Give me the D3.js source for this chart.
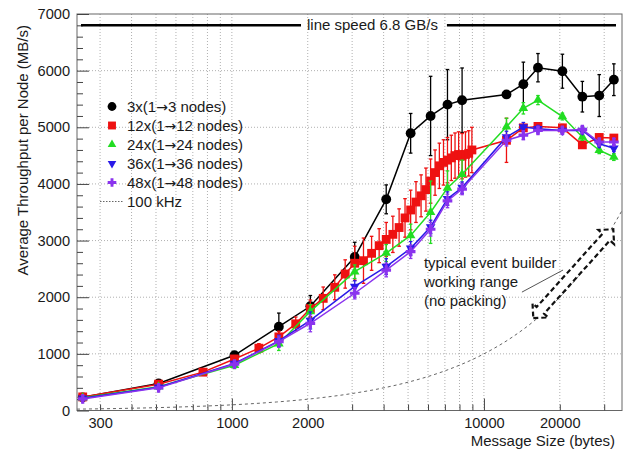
<!DOCTYPE html>
<html><head><meta charset="utf-8">
<script src="https://cdn.jsdelivr.net/npm/d3@7"></script>
<style>
body{margin:0;background:#fff;}
svg text{font-family:"Liberation Sans",Arial,Helvetica,sans-serif;fill:#1a1a1a;}
</style></head><body>
<svg id="chart" width="631" height="453"></svg>
<script>
// ---------------- data ----------------
const sizesCoarse = [256,512,1024,1536,2048,3072,4096,5120,6144,7168,8192,12288,14336,16384,20480,24576,28672,32768];
const sizesFine = [256,512,768,1024,1280,1536,1792,2048,
  2304,2560,2816,3072,3328,3584,3840,4096,4352,4608,4864,5120,5376,5632,5888,6144,6400,6656,6912,7168,7424,7680,7936,8192,8448,8704,8960,
  12288,14336,16384,20480,24576,28672,32768];

const values3 = [233,478,975,1480,1840,2710,3728,4894,5200,5400,5477,5580,5760,6052,5990,5540,5560,5840];
const errors3 = [25,35,50,240,190,260,255,350,700,620,570,40,390,250,300,270,370,280];

const values12 = [240,465,677,910,1100,1300,1530,1800,
  1980,2175,2410,2600,2645,2775,2910,3020,3110,3230,3400,3540,3680,3790,3900,4050,4200,4320,4380,4420,4460,4500,4520,4490,4520,4540,4600,
  4770,4990,5015,4990,4690,4820,4810];
const errors12 = [25,35,40,60,80,100,120,150,
  200,220,250,300,400,300,300,300,320,330,340,350,360,370,380,390,400,400,400,400,400,400,400,400,400,400,400,
  390,60,60,60,60,60,60];

const values24 = [225,420,800,1180,1750,2450,2780,3090,3500,3930,4170,5010,5335,5480,5190,4830,4595,4475];
const errors24 = [20,30,60,120,120,120,150,200,550,300,250,150,100,80,60,60,60,60];

const values36 = [215,410,830,1230,1590,2190,2540,2863,3240,3740,3935,4830,5005,4975,4945,4945,4710,4630];
const errors36 = [20,30,50,100,150,100,140,120,120,120,100,100,80,60,60,60,60,60];

const values48 = [205,400,820,1215,1540,2070,2480,2804,3200,3700,3910,4770,4860,4945,4945,4960,4740,4740];
const errors48 = [20,30,50,100,150,100,120,120,120,120,100,100,80,60,60,60,60,60];

const seriesLabels = [["3x(1","3 nodes)"],["12x(1","12 nodes)"],["24x(1","24 nodes)"],["36x(1","36 nodes)"],["48x(1","48 nodes)"]];
const arrowGlyph = "\u2192";

// 100 kHz reference curve
const rateSizes  = [243,300,400,500,700,1000,1500,2000,3000,4000,5000,7000,10000,13000,16000,20000,25000,30000,35300];
const rateValues = [24.3,30,40,50,70,100,150,200,300,400,500,700,1000,1300,1600,2000,2500,3000,3530];

const lineSpeed = 6800;
const xGrid = [300,400,500,600,700,800,900,1000,2000,3000,4000,5000,6000,7000,8000,9000,10000,20000,30000];
const xLabels = [300,1000,2000,10000,20000];
const yMajor = [0,1000,2000,3000,4000,5000,6000,7000];
const yMinor = d3.range(0,7001,200);
const annotationLines = ["typical event builder","working range","(no packing)"];

// ---------------- layout ----------------
const svg = d3.select("#chart");
const L=77, R=622, T=14, B=410.5;
const x = d3.scaleLog().domain([243,35300]).range([L,R]);
const y = d3.scaleLinear().domain([0,7000]).range([B,T]);
const FS = 14.6;

// grid
const grid = svg.append("g");
grid.selectAll(".gx").data(xGrid).enter().append("line")
  .attr("x1",d=>x(d)).attr("x2",d=>x(d)).attr("y1",T).attr("y2",B)
  .attr("stroke","#b0b0b0").attr("stroke-width",1).attr("stroke-dasharray","1,2");
grid.selectAll(".gy").data(yMajor.filter(v=>v>0&&v<7000)).enter().append("line")
  .attr("x1",L).attr("x2",R).attr("y1",d=>y(d)).attr("y2",d=>y(d))
  .attr("stroke","#b0b0b0").attr("stroke-width",1).attr("stroke-dasharray","1,2");

// frame
svg.append("rect").attr("x",L).attr("y",T).attr("width",R-L).attr("height",B-T)
  .attr("fill","none").attr("stroke","#666").attr("stroke-width",1);

// axes
const yAxis = d3.axisLeft(y).tickValues(yMajor).tickSize(-12).tickPadding(7).tickFormat(d3.format("d"));
const gy = svg.append("g").attr("transform",`translate(${L},0)`).call(yAxis);
gy.select(".domain").remove();
gy.selectAll("line").attr("stroke","#444");
gy.selectAll("text").style("font-size",FS+"px");
const yAxisMinor = d3.axisLeft(y).tickValues(yMinor.filter(v=>v%1000!==0)).tickSize(-6).tickFormat("");
const gym = svg.append("g").attr("transform",`translate(${L},0)`).call(yAxisMinor);
gym.select(".domain").remove();
gym.selectAll("line").attr("stroke","#444");

const xAxis = d3.axisBottom(x).tickValues(xGrid).tickSize(-6).tickPadding(7)
  .tickFormat(d=>xLabels.includes(d)?String(d):"");
const gx = svg.append("g").attr("transform",`translate(0,${B})`).call(xAxis);
gx.select(".domain").remove();
gx.selectAll("line").attr("stroke","#444").attr("y2",d=>(d===1000||d===10000)?-12:-6);
gx.selectAll("text").style("font-size",FS+"px");

// axis titles
svg.append("text").attr("transform","translate(28,25) rotate(-90)").attr("text-anchor","end")
  .style("font-size","15px").text("Average Throughput per Node (MB/s)");
svg.append("text").attr("x",615).attr("y",446).attr("text-anchor","end")
  .style("font-size","15px").text("Message Size (bytes)");

// line speed
const lsText = svg.append("text").attr("x",307).attr("y",y(lineSpeed)+5).style("font-size","15px").text("line speed 6.8 GB/s");
const lsW = lsText.node().getComputedTextLength();
svg.append("line").attr("x1",L+4).attr("x2",301).attr("y1",y(lineSpeed)).attr("y2",y(lineSpeed))
  .attr("stroke","#000").attr("stroke-width",2.5);
svg.append("line").attr("x1",307+lsW+9).attr("x2",R-6).attr("y1",y(lineSpeed)).attr("y2",y(lineSpeed))
  .attr("stroke","#000").attr("stroke-width",2.5);

// 100 kHz curve
const rateData = rateSizes.map((s,i)=>[s,rateValues[i]]);
svg.append("path").datum(rateData)
  .attr("d",d3.line().x(d=>x(d[0])).y(d=>y(d[1])).curve(d3.curveMonotoneX))
  .attr("fill","none").attr("stroke","#666").attr("stroke-width",1).attr("stroke-dasharray","3,3");

// series
const series = [
  {sizes:sizesCoarse, vals:values3,  errs:errors3,  color:"#000000", sym:d3.symbolCircle,   size:76, rot:0},
  {sizes:sizesFine,   vals:values12, errs:errors12, color:"#ee1111", sym:d3.symbolSquare,   size:78, rot:0},
  {sizes:sizesCoarse, vals:values24, errs:errors24, color:"#22dd22", sym:d3.symbolTriangle, size:40, rot:0},
  {sizes:sizesCoarse, vals:values36, errs:errors36, color:"#2a1ae8", sym:d3.symbolTriangle, size:40, rot:180},
  {sizes:sizesCoarse, vals:values48, errs:errors48, color:"#8a33ee", sym:d3.symbolCross,    size:52, rot:0}
];
const lineGen = d3.line().x(d=>x(d.s)).y(d=>y(d.v));
series.forEach(sr=>{
  const pts = sr.sizes.map((s,i)=>({s, v:sr.vals[i], e:sr.errs[i]}));
  const g = svg.append("g");
  g.append("path").datum(pts).attr("d",lineGen).attr("fill","none")
    .attr("stroke",sr.color).attr("stroke-width",1.5);
  const eb = g.selectAll(".eb").data(pts.filter(p=>p.e>0)).enter().append("g");
  eb.append("line").attr("x1",p=>x(p.s)).attr("x2",p=>x(p.s)).attr("y1",p=>y(p.v-p.e)).attr("y2",p=>y(p.v+p.e))
    .attr("stroke",sr.color).attr("stroke-width",1.3);
  eb.append("line").attr("x1",p=>x(p.s)-1.8).attr("x2",p=>x(p.s)+1.8).attr("y1",p=>y(p.v+p.e)).attr("y2",p=>y(p.v+p.e))
    .attr("stroke",sr.color).attr("stroke-width",1.3);
  eb.append("line").attr("x1",p=>x(p.s)-1.8).attr("x2",p=>x(p.s)+1.8).attr("y1",p=>y(p.v-p.e)).attr("y2",p=>y(p.v-p.e))
    .attr("stroke",sr.color).attr("stroke-width",1.3);
  g.selectAll(".m").data(pts).enter().append("path")
    .attr("d",d3.symbol(sr.sym,sr.size))
    .attr("transform",p=>`translate(${x(p.s)},${y(p.v)}) rotate(${sr.rot})`)
    .attr("fill",sr.color);
});

// legend
const legX = 112, legTextX = 127, legY0 = 106.5, legStep = 19;
const leg = svg.append("g");
series.forEach((sr,i)=>{
  const cy = legY0 + i*legStep;
  leg.append("path").attr("d",d3.symbol(sr.sym,sr.size*0.8))
    .attr("transform",`translate(${legX},${cy}) rotate(${sr.rot})`).attr("fill",sr.color);
  const t = leg.append("text").attr("x",legTextX).attr("y",cy+5.3).style("font-size","15px");
  t.append("tspan").text(seriesLabels[i][0]);
  t.append("tspan").style("font-family","'DejaVu Sans'").style("font-size","14px").text(arrowGlyph);
  t.append("tspan").text(seriesLabels[i][1]);
});
const cyR = legY0 + 5*legStep;
leg.append("line").attr("x1",100).attr("x2",123).attr("y1",cyR).attr("y2",cyR)
  .attr("stroke","#666").attr("stroke-width",1).attr("stroke-dasharray","1.5,1.5");
leg.append("text").attr("x",legTextX).attr("y",cyR+5.3).style("font-size","15px").text("100 kHz");

// annotation
const annX = x(5780), annY = y(2520);
annotationLines.forEach((t,i)=>{
  svg.append("text").attr("x",annX).attr("y",annY+i*19).style("font-size","15px").text(t);
});
svg.append("line").attr("x1",x(14150)).attr("y1",y(2090)).attr("x2",x(20600)).attr("y2",y(2480))
  .attr("stroke","#555").attr("stroke-width",1);

// double arrow (hollow, dashed)
const p1=[x(15700),y(1630)], p2=[x(32600),y(3200)];
const dx=p2[0]-p1[0], dy=p2[1]-p1[1], len=Math.hypot(dx,dy);
const u=[dx/len,dy/len], n=[-u[1],u[0]];
const hl=10.5, hw=10.5, sw=5;
const P=(b,a,c)=>[b[0]+u[0]*a+n[0]*c, b[1]+u[1]*a+n[1]*c];
const arrowPts=[p1,P(p1,hl,hw),P(p1,hl,sw),P(p2,-hl,sw),P(p2,-hl,hw),p2,P(p2,-hl,-hw),P(p2,-hl,-sw),P(p1,hl,-sw),P(p1,hl,-hw)];
svg.append("path").attr("d",d3.line()(arrowPts)+"Z").attr("fill","#fff")
  .attr("stroke","#111").attr("stroke-width",2.2).attr("stroke-dasharray","5,3");
</script>
</body></html>
